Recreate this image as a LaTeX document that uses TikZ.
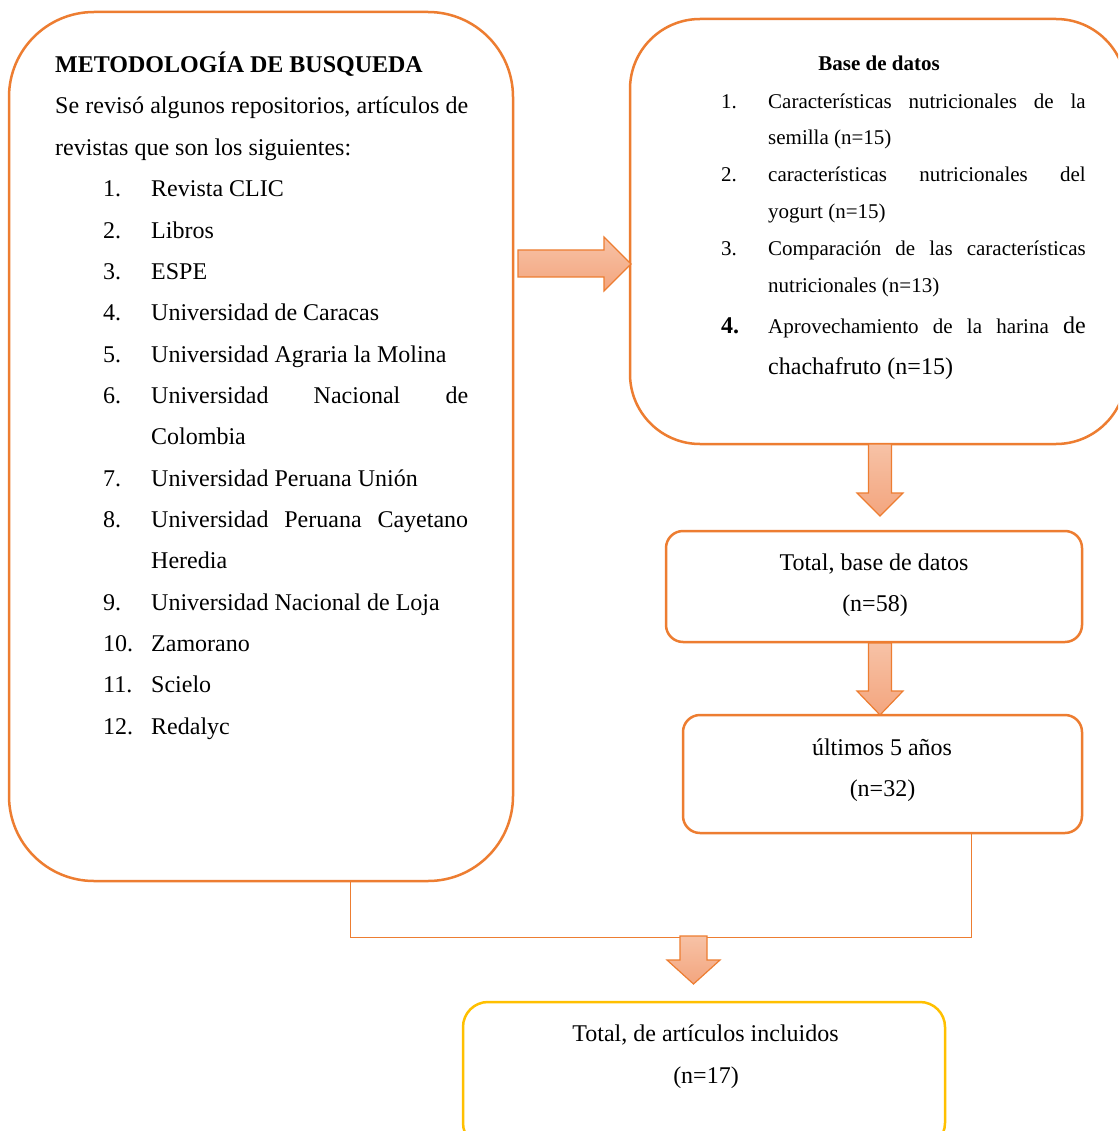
\documentclass[tikz,border=0pt]{standalone}
\usepackage{fontspec}
\setmainfont{Liberation Serif}
\usetikzlibrary{calc}
\definecolor{orn}{HTML}{ED7D31}
\definecolor{ylw}{HTML}{FFC000}
\definecolor{artop}{HTML}{F7C2A6}
\definecolor{arbot}{HTML}{F3A57E}
\newcommand{\bigf}{\fontsize{24}{24}\selectfont}
\newcommand{\smlf}{\fontsize{21}{21}\selectfont}
\tikzset{
  box/.style={draw=orn, line width=2.5pt, fill=white, inner sep=0pt},
  ybox/.style={draw=ylw, line width=2.5pt, fill=white, inner sep=0pt},
  fat/.style={draw=orn, line width=1.2pt, line join=miter, top color=artop, bottom color=arbot},
  conn/.style={draw=orn, line width=1pt},
  txt/.style={anchor=base west, inner sep=0pt, font=\bigf},
  stxt/.style={anchor=base west, inner sep=0pt, font=\smlf},
  ctxt/.style={anchor=base, inner sep=0pt, font=\bigf}
}
\begin{document}
\begin{tikzpicture}[x=1pt,y=-1pt]
\useasboundingbox (0,0) rectangle (1118,1131);
\clip (0,0) rectangle (1118,1131);
\fill[white] (0,0) rectangle (1118,1131);

% boxes
\node[box, rounded corners=85pt, minimum width=504pt, minimum height=869pt] (lb) at (261,446.5) {};
\node[box, rounded corners=70pt, minimum width=496pt, minimum height=425pt] (rb) at (878,231.5) {};
\node[box, rounded corners=17pt, minimum width=416pt, minimum height=111pt] (tot) at (874,586.5) {};
\node[box, rounded corners=17pt, minimum width=399pt, minimum height=118pt] (ul) at (882.5,774) {};
\node[ybox, rounded corners=25pt, minimum width=482pt, minimum height=146pt] (fin) at (704,1075) {};

% connector lines
\draw[conn] ([xshift=89pt]lb.south) -- ++(0,55) coordinate (jn) -| ([xshift=88.5pt]ul.south);

% fat arrows
\draw[fat] (518,250) -- (604,250) -- (604,237) -- (631,264) -- (604,291) -- (604,277) -- (518,277) -- cycle;
\coordinate (a1) at (880,444);
\draw[fat] ($(a1)+(-11.5,0)$) -- ++(0,49) -- ++(-11.5,0) -- ($(a1)+(0,72)$) -- ($(a1)+(23,49)$) -- ++(-11.5,0) -- ($(a1)+(11.5,0)$) -- cycle;
\coordinate (a2) at (880,643);
\draw[fat] ($(a2)+(-11.5,0)$) -- ++(0,48) -- ++(-11.5,0) -- ($(a2)+(0,72)$) -- ($(a2)+(23,48)$) -- ++(-11.5,0) -- ($(a2)+(11.5,0)$) -- cycle;
\coordinate (a3) at (693.5,936);
\draw[fat] ($(a3)+(-13.5,0)$) -- ++(0,24) -- ++(-13,0) -- ($(a3)+(0,48)$) -- ($(a3)+(26.5,24)$) -- ++(-13,0) -- ($(a3)+(13.5,0)$) -- cycle;

% left box text
\node[txt, font=\bigf\bfseries] (lt) at (55,72.7) {METODOLOGÍA DE BUSQUEDA};
\node[txt] (l1) at (55,114) {\makebox[413pt][s]{Se revisó algunos repositorios, artículos de}};
\node[txt] (l2) at (55,155.5) {revistas que son los siguientes:};
\foreach \k/\n/\t in {3/1./Revista CLIC, 4/2./Libros, 5/3./ESPE, 6/4./Universidad de Caracas, 7/5./Universidad Agraria la Molina, 8/6./\makebox[317pt][s]{Universidad Nacional de}, 9//Colombia, 10/7./Universidad Peruana Unión, 11/8./\makebox[317pt][s]{Universidad Peruana Cayetano}, 12//Heredia, 13/9./Universidad Nacional de Loja, 14/10./Zamorano, 15/11./Scielo, 16/12./Redalyc}{
  \node[txt] (n\k) at (103,72.7+41.35*\k) {\n};
  \node[txt] (t\k) at (151,72.7+41.35*\k) {\t};
}

% right box text
\node[anchor=base, inner sep=0pt, font=\smlf\bfseries] (rt) at (879,71) {Base de datos};
\node[stxt] (r1n) at (721,108.3) {1.};
\node[stxt] (r1a) at (768,108.3) {\makebox[317.5pt][s]{Características nutricionales de la}};
\node[stxt] (r1b) at (768,145) {semilla (n=15)};
\node[stxt] (r2n) at (721,182) {2.};
\node[stxt] (r2a) at (768,182) {\makebox[317.5pt][s]{características nutricionales del}};
\node[stxt] (r2b) at (768,218.5) {yogurt (n=15)};
\node[stxt] (r3n) at (721,256) {3.};
\node[stxt] (r3a) at (768,256) {\makebox[317.5pt][s]{Comparación de las características}};
\node[stxt] (r3b) at (768,292.7) {nutricionales (n=13)};
\node[txt, font=\bigf\bfseries] (r4n) at (721,333) {4.};
\node[stxt] (r4a) at (768,333) {\makebox[317.5pt][s]{Aprovechamiento de la harina {\bigf de}}};
\node[txt] (r4b) at (768,374) {chachafruto (n=15)};

% lower boxes text
\node[ctxt] (tt1) at (874,570) {Total, base de datos};
\node[ctxt] (tt2) at (875,611.7) {(n=58)};
\node[ctxt] (ut1) at (882,755) {últimos 5 años};
\node[ctxt] (ut2) at (882.5,796.7) {(n=32)};
\node[ctxt] (ft1) at (705.5,1041.7) {Total, de artículos incluidos};
\node[ctxt] (ft2) at (706,1083) {(n=17)};
\end{tikzpicture}
\end{document}
